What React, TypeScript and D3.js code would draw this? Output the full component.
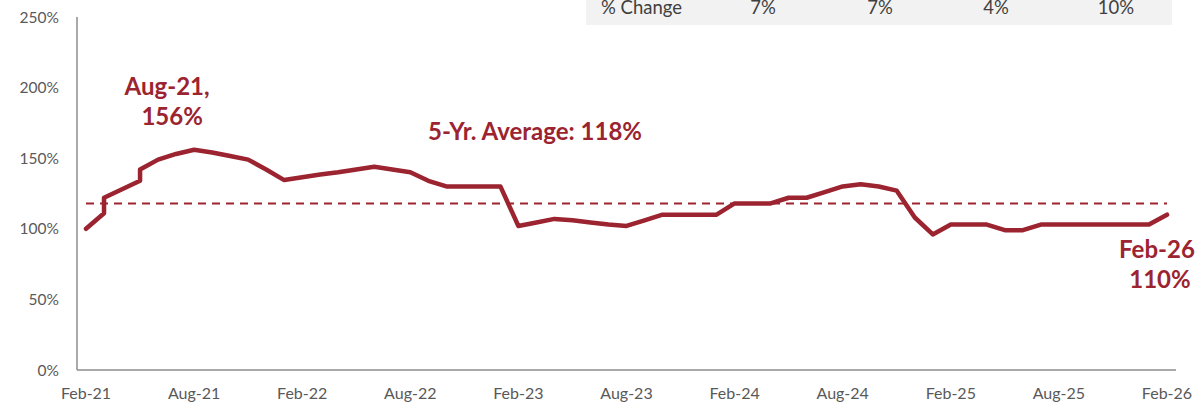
import { useEffect, useRef } from 'react';
import * as d3 from 'd3';

const dates = [
  '2021-02', '2021-03', '2021-03', '2021-04', '2021-05', '2021-05', '2021-06', '2021-07', '2021-08', '2021-09', '2021-10', '2021-11', '2021-12',
  '2022-01', '2022-02', '2022-03', '2022-04', '2022-05', '2022-06', '2022-07', '2022-08', '2022-09', '2022-10', '2022-11', '2022-12',
  '2023-01', '2023-02', '2023-03', '2023-04', '2023-05', '2023-06', '2023-07', '2023-08', '2023-09', '2023-10', '2023-11', '2023-12',
  '2024-01', '2024-02', '2024-03', '2024-04', '2024-05', '2024-06', '2024-07', '2024-08', '2024-09', '2024-10', '2024-11', '2024-12',
  '2025-01', '2025-02', '2025-03', '2025-04', '2025-05', '2025-06', '2025-07', '2025-08', '2025-09', '2025-10', '2025-11', '2025-12',
  '2026-01', '2026-02',
];

const values = [
  100, 111, 122, 128, 134, 142, 149, 153, 156, 154, 151.5, 149, 142,
  134.5, 136.5, 138.5, 140, 142, 144, 142, 140, 134, 130, 130, 130,
  130, 102, 104.5, 107, 106, 104.5, 103, 102, 106, 110, 110, 110,
  110, 118, 118, 118, 122, 122, 126, 130, 131.5, 130, 127, 108,
  96, 103, 103, 103, 99, 99, 103, 103, 103, 103, 103, 103,
  103, 110,
];

const average = 118;
const yTicks = [0, 50, 100, 150, 200, 250];
const xTickLabels = ['Feb-21', 'Aug-21', 'Feb-22', 'Aug-22', 'Feb-23', 'Aug-23', 'Feb-24', 'Aug-24', 'Feb-25', 'Aug-25', 'Feb-26'];

const tableLabel = '% Change';
const tableValues = ['7%', '7%', '4%', '10%'];

const RED = '#9b2430';
const FONT = 'Lato, "Open Sans", sans-serif';

const parse = d3.timeParse('%Y-%m');
const start = parse(dates[0]) as Date;
const monthIndex = (s: string): number => d3.timeMonth.count(start, parse(s) as Date);
const labelIndex = (s: string): number => d3.timeMonth.count(start, d3.timeParse('%b-%y')(s) as Date);

const App = (): JSX.Element => {
  const svgRef = useRef<SVGSVGElement>(null);

  useEffect(() => {
    const svg = d3.select(svgRef.current);
    svg.selectAll('*').remove();

    const nMonths = monthIndex(dates[dates.length - 1]);
    const x = d3.scaleLinear().domain([-0.5, nMonths + 0.5]).range([77, 1176]);
    const y = d3.scaleLinear().domain([0, 250]).range([370, 17]);

    // bottom row of the summary table, cut by the top edge
    svg.append('rect')
      .attr('x', 586).attr('y', 0)
      .attr('width', 586).attr('height', 25)
      .attr('fill', '#f2f2f2');

    svg.append('text')
      .attr('x', 601).attr('y', 14)
      .attr('font-family', FONT).attr('font-size', 18.5)
      .attr('fill', '#404040')
      .text(tableLabel);

    const colX = [763, 880, 996, 1116];
    svg.selectAll('.tv').data(tableValues).enter()
      .append('text')
      .attr('x', (_d, i) => colX[i]).attr('y', 14)
      .attr('text-anchor', 'middle')
      .attr('font-family', FONT).attr('font-size', 18.5)
      .attr('fill', '#404040')
      .text(d => d);

    // axes
    svg.append('line')
      .attr('x1', 77).attr('x2', 77)
      .attr('y1', y(250)).attr('y2', y(0))
      .attr('stroke', '#8c8c8c').attr('stroke-width', 1.5);
    svg.append('line')
      .attr('x1', 77).attr('x2', 1176)
      .attr('y1', y(0)).attr('y2', y(0))
      .attr('stroke', '#8c8c8c').attr('stroke-width', 1.5);

    svg.selectAll('.yt').data(yTicks).enter()
      .append('text')
      .attr('x', 59).attr('y', d => y(d) + 5.5)
      .attr('text-anchor', 'end')
      .attr('font-family', FONT).attr('font-size', 15.5)
      .attr('fill', '#595959')
      .text(d => `${d}%`);

    svg.selectAll('.xt').data(xTickLabels).enter()
      .append('text')
      .attr('x', d => x(labelIndex(d))).attr('y', 399)
      .attr('text-anchor', 'middle')
      .attr('font-family', FONT).attr('font-size', 16)
      .attr('fill', '#595959')
      .text(d => d);

    // 5-yr average
    svg.append('line')
      .attr('x1', x(0)).attr('x2', x(nMonths))
      .attr('y1', y(average)).attr('y2', y(average))
      .attr('stroke', RED).attr('stroke-width', 2)
      .attr('stroke-dasharray', '8,6');

    const line = d3.line<number>()
      .x((_d, i) => x(monthIndex(dates[i])))
      .y(d => y(d));

    svg.append('path')
      .attr('d', line(values))
      .attr('fill', 'none')
      .attr('stroke', RED)
      .attr('stroke-width', 4.5)
      .attr('stroke-linejoin', 'round')
      .attr('stroke-linecap', 'round');

    // annotations
    const peakI = values.indexOf(d3.max(values) as number);
    const lastI = values.length - 1;
    const fmt = d3.timeFormat('%b-%y');
    const note = (tx: number, ty: number, t: string) => svg.append('text')
      .attr('x', tx).attr('y', ty)
      .attr('text-anchor', 'middle')
      .attr('font-family', FONT).attr('font-size', 24).attr('font-weight', 'bold')
      .attr('fill', RED)
      .text(t);

    const px = x(monthIndex(dates[peakI]));
    note(px - 27, 95, `${fmt(parse(dates[peakI]) as Date)},`);
    note(px - 22, 125, `${values[peakI]}%`);
    note(535, 140, `5-Yr. Average: ${average}%`);
    const lx = x(monthIndex(dates[lastI]));
    note(lx - 10, 258, fmt(parse(dates[lastI]) as Date));
    note(lx - 7, 288, `${values[lastI]}%`);
  }, []);

  return (
    <svg ref={svgRef} width={1196} height={404}
      style={{ position: 'fixed', left: 0, top: 0, background: '#fff' }} />
  );
};

export default App;
